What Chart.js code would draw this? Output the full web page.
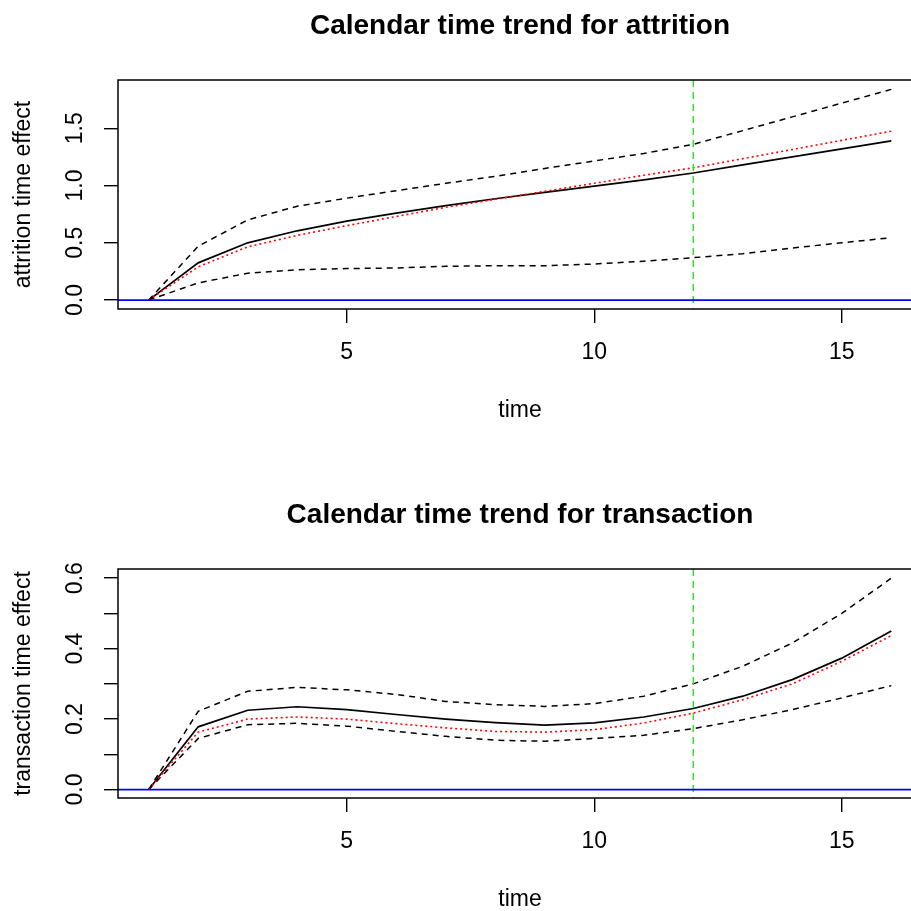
<!DOCTYPE html>
<html>
<head>
<meta charset="utf-8">
<script src="https://cdn.jsdelivr.net/npm/chart.js@4.4.1/dist/chart.umd.min.js"></script>
<style>
  html, body { margin: 0; padding: 0; width: 911px; height: 911px; overflow: hidden; background: #fff; }
  canvas { position: absolute; left: 0; display: block; }
</style>
</head>
<body>
<canvas id="attrition" width="922" height="489" style="top:0px"></canvas>
<canvas id="transaction" width="922" height="489" style="top:489px"></canvas>
<script>
// time points
const time = [1, 2, 3, 4, 5, 6, 7, 8, 9, 10, 11, 12, 13, 14, 15, 16]
const xTicks = [5, 10, 15]

// attrition panel
const attrEst = [0, 0.325, 0.50, 0.605, 0.69, 0.76, 0.825, 0.885, 0.94, 0.995, 1.05, 1.11, 1.18, 1.25, 1.32, 1.39]
const attrTrue = [0, 0.29, 0.465, 0.565, 0.65, 0.73, 0.81, 0.88, 0.95, 1.02, 1.09, 1.155, 1.235, 1.315, 1.395, 1.475]
const attrUpper = [0, 0.47, 0.70, 0.82, 0.89, 0.955, 1.02, 1.08, 1.15, 1.215, 1.28, 1.36, 1.48, 1.60, 1.72, 1.84]
const attrLower = [0, 0.15, 0.235, 0.265, 0.275, 0.28, 0.295, 0.30, 0.30, 0.315, 0.34, 0.37, 0.405, 0.455, 0.50, 0.545]
const attrYTicks = [0, 0.5, 1, 1.5]
const attrYLabels = ["0.0", "0.5", "1.0", "1.5"]

// transaction panel
const trEst = [0, 0.178, 0.225, 0.235, 0.227, 0.213, 0.20, 0.19, 0.183, 0.189, 0.206, 0.23, 0.265, 0.312, 0.373, 0.45]
const trTrue = [0, 0.163, 0.20, 0.206, 0.20, 0.187, 0.175, 0.165, 0.163, 0.17, 0.189, 0.217, 0.255, 0.30, 0.364, 0.437]
const trUpper = [0, 0.222, 0.279, 0.29, 0.283, 0.27, 0.25, 0.241, 0.236, 0.244, 0.265, 0.30, 0.35, 0.416, 0.50, 0.60]
const trLower = [0, 0.145, 0.184, 0.188, 0.18, 0.165, 0.151, 0.14, 0.137, 0.145, 0.154, 0.173, 0.198, 0.227, 0.26, 0.295]
const trYTicks = [0, 0.1, 0.2, 0.3, 0.4, 0.5, 0.6]
const trYLabels = ["0.0", "", "0.2", "", "0.4", "", "0.6"]

// reference lines
const hLine = 0
const vLine = 12

Chart.defaults.font.family = "'Liberation Sans', Arial, sans-serif"
Chart.defaults.color = "#000"

const pts = ys => time.map((t, i) => ({ x: t, y: ys[i] }))

// box, abline(h=0), abline(v=12) and rotated y tick labels, R style
const rPlot = {
  id: "rPlot",
  afterDatasetsDraw(chart) {
    const { ctx, chartArea: a, scales: { x, y } } = chart
    ctx.save()
    ctx.beginPath()
    ctx.rect(a.left, a.top, a.right - a.left, a.bottom - a.top)
    ctx.clip()
    ctx.lineWidth = 1.4
    ctx.strokeStyle = "rgb(40,225,40)"
    ctx.setLineDash([7, 5])
    const vx = x.getPixelForValue(vLine)
    ctx.beginPath()
    ctx.moveTo(vx, a.top)
    ctx.lineTo(vx, a.bottom)
    ctx.stroke()
    ctx.setLineDash([])
    ctx.lineWidth = 1.7
    ctx.strokeStyle = "#0000ff"
    const hy = y.getPixelForValue(hLine)
    ctx.beginPath()
    ctx.moveTo(a.left, hy)
    ctx.lineTo(a.right, hy)
    ctx.stroke()
    ctx.restore()
  },
  afterDraw(chart, args, opts) {
    const { ctx, chartArea: a, scales: { y } } = chart
    ctx.save()
    ctx.lineWidth = 1.5
    ctx.strokeStyle = "#000"
    ctx.strokeRect(a.left, a.top, a.right - a.left, a.bottom - a.top)
    ctx.font = "23px 'Liberation Sans', Arial, sans-serif"
    ctx.fillStyle = "#000"
    ctx.textAlign = "center"
    ctx.textBaseline = "alphabetic"
    y.ticks.forEach((t, i) => {
      const lbl = opts.labels[i]
      if (!lbl) return
      ctx.save()
      ctx.translate(a.left - 36.3, y.getPixelForValue(t.value))
      ctx.rotate(-Math.PI / 2)
      ctx.fillText(lbl, 0, 0)
      ctx.restore()
    })
    ctx.restore()
  },
}

function makePanel(id, title, yTitle, est, truth, upper, lower, yMin, yMax, yTicks, yLabels) {
  return new Chart(id, {
    type: "line",
    data: {
      datasets: [
        { data: pts(truth), borderColor: "#ff0000", borderWidth: 1.6, borderDash: [2, 3] },
        { data: pts(est), borderColor: "#000", borderWidth: 1.7 },
        { data: pts(upper), borderColor: "#000", borderWidth: 1.5, borderDash: [6, 5] },
        { data: pts(lower), borderColor: "#000", borderWidth: 1.5, borderDash: [6, 5] },
      ],
    },
    options: {
      responsive: false,
      animation: false,
      devicePixelRatio: 1,
      elements: { point: { radius: 0 }, line: { tension: 0, fill: false } },
      layout: { padding: 0 },
      scales: {
        x: {
          type: "linear",
          min: 0.38,
          max: 16.62,
          afterBuildTicks: ax => { ax.ticks = xTicks.map(v => ({ value: v })) },
          afterFit: s => { s.height = 180 },
          ticks: { font: { size: 23 }, color: "#000", padding: 16, callback: v => String(v), maxRotation: 0 },
          grid: { drawOnChartArea: false, drawTicks: true, tickLength: 14, color: "#000", lineWidth: 1.4 },
          border: { display: false },
          title: { display: true, text: "time", font: { size: 23 }, color: "#000", padding: { top: 0, bottom: 64.5 } },
        },
        y: {
          type: "linear",
          min: yMin,
          max: yMax,
          afterBuildTicks: ax => { ax.ticks = yTicks.map(v => ({ value: v })) },
          afterFit: s => { s.width = 118 },
          ticks: { display: false },
          grid: { drawOnChartArea: false, drawTicks: true, tickLength: 14, color: "#000", lineWidth: 1.4 },
          border: { display: false },
          title: { display: true, text: yTitle, font: { size: 23 }, color: "#000", padding: { top: 9.9, bottom: 0 } },
        },
      },
      plugins: {
        legend: { display: false },
        tooltip: { enabled: false },
        title: {
          display: true,
          text: title,
          fullSize: false,
          color: "#000",
          font: { size: 28, weight: "bold" },
          padding: { top: 9.5, bottom: 36.9 },
        },
        rPlot: { labels: yLabels },
      },
    },
    plugins: [rPlot],
  })
}

makePanel("attrition", "Calendar time trend for attrition", "attrition time effect",
  attrEst, attrTrue, attrUpper, attrLower, -0.078, 1.922, attrYTicks, attrYLabels)
makePanel("transaction", "Calendar time trend for transaction", "transaction time effect",
  trEst, trTrue, trUpper, trLower, -0.024, 0.626, trYTicks, trYLabels)
</script>
</body>
</html>
